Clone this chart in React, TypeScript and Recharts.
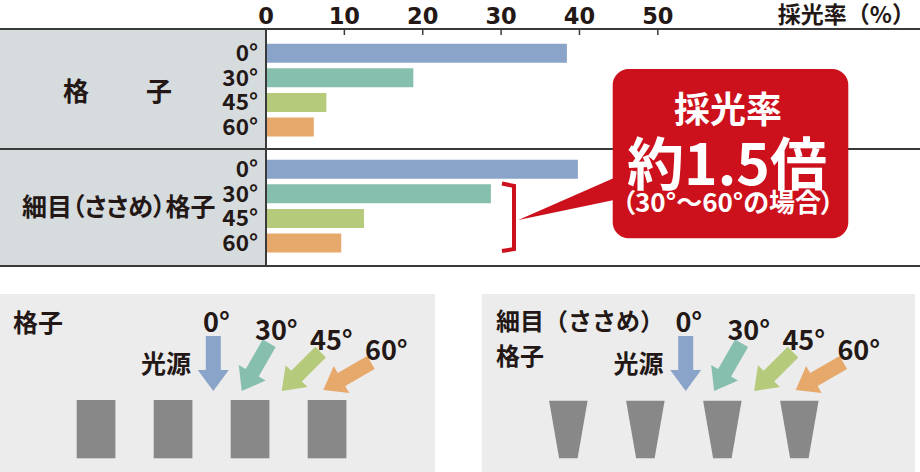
import * as React from "react";
import { BarChart, Bar, XAxis, YAxis, Cell } from "recharts";

const angles = ["0°", "30°", "45°", "60°"];
const koshiValues = [38.4, 18.8, 7.7, 6.1];
const sasameValues = [39.8, 28.7, 12.5, 9.6];
const xTicks = [0, 10, 20, 30, 40, 50];
const barColors = ["#8aa4c9", "#86bfae", "#b5ca7b", "#e6a96b"];
const arrowAngles = [0, 30, 45, 60];

const FONT = "'Noto Sans CJK JP', 'Noto Sans', sans-serif";
const NUM_FONT = "'DejaVu Sans', 'Noto Sans', sans-serif";
const INK = "#231815";
const RED = "#cc111c";

const koshiRows = angles.map((a, i) => ({ angle: a, value: koshiValues[i] }));
const sasameRows = angles.map((a, i) => ({ angle: a, value: sasameValues[i] }));

const TopTick = (props: any) => {
  const { x, payload } = props;
  return (
    <g>
      <text x={x} y={24} textAnchor="middle" fontFamily={NUM_FONT} fontWeight={700} fontSize={22.5} fill={INK}>
        {payload.value}
      </text>
      <line x1={x} y1={29} x2={x} y2={35} stroke="#3a3a3a" strokeWidth={1.5} />
    </g>
  );
};

const AngleTick = (props: any) => {
  const { y, payload } = props;
  return (
    <text x={258} y={y + 8} textAnchor="end" fontFamily={FONT} fontWeight={700} fontSize={22.5} fill={INK}>
      {payload.value}
    </text>
  );
};

// arrow pointing down-left at the given angle from vertical
function arrowPoints(tx: number, ty: number, deg: number) {
  const t = (deg * Math.PI) / 180;
  const dx = -Math.sin(t), dy = Math.cos(t);
  const nx = Math.cos(t), ny = Math.sin(t);
  const L = 55, H = 21, w = 7.5, W = 15.5;
  const ax = tx - dx * L, ay = ty - dy * L;
  const bx = tx - dx * H, by = ty - dy * H;
  const pts = [
    [ax + nx * w, ay + ny * w],
    [bx + nx * w, by + ny * w],
    [bx + nx * W, by + ny * W],
    [tx, ty],
    [bx - nx * W, by - ny * W],
    [bx - nx * w, by - ny * w],
    [ax - nx * w, ay - ny * w],
  ];
  return pts.map((p) => p.join(",")).join(" ");
}

const leftTips = [
  [213.3, 391],
  [241.7, 391],
  [281.7, 391],
  [323.3, 390],
];
const blockLefts = [76.7, 153.7, 230.7, 307.7];
const angleLabelPos = [
  [203, 331.5],
  [255, 340],
  [310, 350],
  [365, 360],
];

const Illustration = ({ dx, tapered }: { dx: number; tapered: boolean }) => (
  <g>
    {arrowAngles.map((a, i) => (
      <polygon key={"a" + i} points={arrowPoints(leftTips[i][0] + dx, leftTips[i][1], a)} fill={barColors[i]} />
    ))}
    {angles.map((a, i) => (
      <text key={"t" + i} x={angleLabelPos[i][0] + dx} y={angleLabelPos[i][1]} fontFamily={FONT} fontWeight={700} fontSize={27} fill={INK}>
        {a}
      </text>
    ))}
    <text x={141 + dx} y={373} fontFamily={FONT} fontWeight={700} fontSize={25} fill={INK}>
      光源
    </text>
    {blockLefts.map((l, i) =>
      tapered ? (
        <polygon
          key={"b" + i}
          points={`${l + dx},400.7 ${l + dx + 38.5},400.7 ${l + dx + 28.5},458.3 ${l + dx + 10},458.3`}
          fill="#888888"
        />
      ) : (
        <rect key={"b" + i} x={l + dx} y={400} width={38.7} height={58.3} fill="#888888" />
      )
    )}
  </g>
);

export default function App() {
  return (
    <div style={{ position: "absolute", left: 0, top: 0, width: 920, height: 472, background: "#fff", overflow: "hidden" }}>
      <div style={{ position: "absolute", left: 0, top: 29, width: 266, height: 237, background: "#d6dbde" }} />
      <div style={{ position: "absolute", left: 0, top: 0 }}>
        <BarChart layout="vertical" width={920} height={149} data={koshiRows} margin={{ top: 0, right: 2, bottom: 0, left: 0 }}>
          <XAxis
            type="number"
            orientation="top"
            domain={[0, 83.2]}
            ticks={xTicks}
            interval={0}
            height={29}
            axisLine={false}
            tickLine={false}
            tick={<TopTick />}
            allowDataOverflow
          />
          <YAxis
            type="category"
            dataKey="angle"
            width={266}
            axisLine={false}
            tickLine={false}
            tick={<AngleTick />}
            padding={{ top: 11.7, bottom: 9.9 }}
          />
          <Bar dataKey="value" barSize={19} isAnimationActive={false}>
            {koshiRows.map((r, i) => (
              <Cell key={r.angle} fill={barColors[i]} />
            ))}
          </Bar>
        </BarChart>
      </div>
      <div style={{ position: "absolute", left: 0, top: 149 }}>
        <BarChart layout="vertical" width={920} height={117} data={sasameRows} margin={{ top: 0, right: 2, bottom: 0, left: 0 }}>
          <XAxis type="number" domain={[0, 83.2]} ticks={xTicks} hide allowDataOverflow />
          <YAxis
            type="category"
            dataKey="angle"
            width={266}
            axisLine={false}
            tickLine={false}
            tick={<AngleTick />}
            padding={{ top: 7.7, bottom: 10.9 }}
          />
          <Bar dataKey="value" barSize={19} isAnimationActive={false}>
            {sasameRows.map((r, i) => (
              <Cell key={r.angle} fill={barColors[i]} />
            ))}
          </Bar>
        </BarChart>
      </div>
      <svg width={920} height={472} style={{ position: "absolute", left: 0, top: 0, pointerEvents: "none" }}>
        {/* frame lines */}
        <line x1={0} y1={29} x2={920} y2={29} stroke="#3a3a3a" strokeWidth={2} />
        <line x1={0} y1={149} x2={920} y2={149} stroke="#3a3a3a" strokeWidth={2} />
        <line x1={0} y1={266} x2={920} y2={266} stroke="#3a3a3a" strokeWidth={2} />
        <line x1={266} y1={29} x2={266} y2={266} stroke="#3a3a3a" strokeWidth={2} />

        <text x={915} y={23} textAnchor="end" fontFamily={FONT} fontWeight={700} fontSize={23} fill={INK}>
          採光率（%）
        </text>
        <text x={63} y={101} fontFamily={FONT} fontWeight={700} fontSize={26} fill={INK}>
          格
        </text>
        <text x={146} y={101} fontFamily={FONT} fontWeight={700} fontSize={26} fill={INK}>
          子
        </text>
        <text x={22} y={216} fontFamily={FONT} fontWeight={700} fontSize={25} fill={INK} style={{ fontFeatureSettings: "'palt'" }}>
          細目（ささめ）格子
        </text>

        {/* bracket + callout */}
        <path d="M 502 183.5 L 514 186 L 514 249 L 502 251" fill="none" stroke={RED} strokeWidth={4} />
        <polygon points="614,178 518.3,220 614,200" fill={RED} />
        <rect x={612.7} y={69} width={235.6} height={169.3} rx={16} fill={RED} />
        <text x={728} y={123} textAnchor="middle" fontFamily={FONT} fontWeight={700} fontSize={36} fill="#fff">
          採光率
        </text>
        <text x={727} y={185} textAnchor="middle" fontFamily={FONT} fontWeight={700} fontSize={57} fill="#fff">
          約1.5倍
        </text>
        <text x={728} y={211.5} textAnchor="middle" fontFamily={FONT} fontWeight={700} fontSize={26} fill="#fff" style={{ fontFeatureSettings: "'palt'" }}>
          （30°〜60°の場合）
        </text>

        {/* bottom illustrations */}
        <rect x={0} y={294} width={435} height={178} fill="#ececed" />
        <rect x={481.7} y={294} width={433.3} height={178} fill="#ececed" />
        <text x={13} y={331.5} fontFamily={FONT} fontWeight={700} fontSize={25} fill={INK}>
          格子
        </text>
        <text x={496} y={330} fontFamily={FONT} fontWeight={700} fontSize={24} fill={INK}>
          細目（ささめ）
        </text>
        <text x={496} y={365} fontFamily={FONT} fontWeight={700} fontSize={24} fill={INK}>
          格子
        </text>
        <Illustration dx={0} tapered={false} />
        <Illustration dx={472.4} tapered={true} />
      </svg>
    </div>
  );
}
